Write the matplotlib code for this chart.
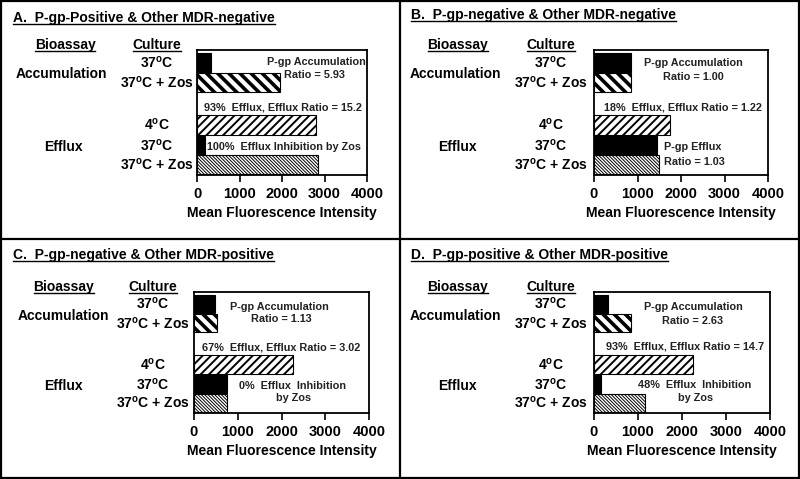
import matplotlib
matplotlib.use("Agg")
import matplotlib.pyplot as plt
from matplotlib.transforms import blended_transform_factory
from matplotlib.lines import Line2D

plt.rcParams["font.family"] = ["Liberation Sans", "DejaVu Sans"]
plt.rcParams["font.weight"] = "bold"
plt.rcParams["mathtext.fontset"] = "custom"
plt.rcParams["mathtext.rm"] = "Liberation Sans:bold"
plt.rcParams["mathtext.it"] = "Liberation Sans:bold"
plt.rcParams["mathtext.bf"] = "Liberation Sans:bold"

# --- data ---
titles = ["A.  P-gp-Positive & Other MDR-negative",
          "B.  P-gp-negative & Other MDR-negative",
          "C.  P-gp-negative & Other MDR-positive",
          "D.  P-gp-positive & Other MDR-positive"]
cultures = ["37$^{\\mathrm{o}}$C", "37$^{\\mathrm{o}}$C + Zos",
            "4$^{\\mathrm{o}}$C", "37$^{\\mathrm{o}}$C", "37$^{\\mathrm{o}}$C + Zos"]
mfi_a = [330, 1950, 2800, 190, 2850]
mfi_b = [860, 860, 1755, 1450, 1490]
mfi_c = [470, 530, 2260, 750, 750]
mfi_d = [320, 840, 2240, 152, 1170]
mfi = [mfi_a, mfi_b, mfi_c, mfi_d]
xticks = [0, 1000, 2000, 3000, 4000]

# annotations: (text, x in MFI, y in bar units, ha)
notes_a = [("P-gp Accumulation", 2800, 0.0, "center"),
           ("Ratio = 5.93", 2760, 0.64, "center"),
           ("93%  Efflux, Efflux Ratio = 15.2", 2020, 2.24, "center"),
           ("100%  Efflux Inhibition by Zos", 2040, 4.22, "center")]
notes_b = [("P-gp Accumulation", 2280, 0.04, "center"),
           ("Ratio = 1.00", 2290, 0.74, "center"),
           ("18%  Efflux, Efflux Ratio = 1.22", 2040, 2.24, "center"),
           ("P-gp Efflux", 1620, 4.22, "left"),
           ("Ratio = 1.03", 1620, 4.97, "left")]
notes_c = [("P-gp Accumulation", 1960, 0.14, "center"),
           ("Ratio = 1.13", 2000, 0.77, "center"),
           ("67%  Efflux, Efflux Ratio = 3.02", 2000, 2.26, "center"),
           ("0%  Efflux  Inhibition", 2260, 4.22, "center"),
           ("by Zos", 2270, 4.89, "center")]
notes_d = [("P-gp Accumulation", 2250, 0.14, "center"),
           ("Ratio = 2.63", 2250, 0.89, "center"),
           ("93%  Efflux, Efflux Ratio = 14.7", 2070, 2.22, "center"),
           ("48%  Efflux  Inhibition", 2280, 4.19, "center"),
           ("by Zos", 2300, 4.86, "center")]
notes = [notes_a, notes_b, notes_c, notes_d]

# --- layout (pixels, top-left origin) ---
W, H = 800, 479
bar_pos = [0, 1, 3.14, 4.15, 5.12]
bar_styles = [dict(color="black", hatch=None, hlw=1.0),
              dict(color="white", hatch="\\\\\\", hlw=2.6),
              dict(color="white", hatch="////", hlw=1.4),
              dict(color="black", hatch=None, hlw=1.0),
              dict(color="white", hatch="\\" * 10, hlw=0.7)]
offsets = [(0, 0), (400, 0), (0, 240), (400, 240)]
ax_rects = [(197, 50, 170, 125), (594, 50, 174, 125),
            (194, 292, 175, 121), (594, 292, 176, 121)]
title_x = [13, 11, 13, 11]
title_y = [18, 15, 15, 15]
bio_x = [65, 58, 64, 58]
cult_x = [157, 151, 153, 151]
acc_x = [61, 55, 63, 55]
eff_x = [63, 57, 63, 57]
head_y = [45, 45, 47, 47]
acc_y = [74, 74, 76, 76]
eff_y = [147, 147, 146, 146]

fig = plt.figure(figsize=(W / 100, H / 100), dpi=100)


def fx(px):
    return px / W


def fy(py):
    return 1 - py / H


underlined = []
for i in range(4):
    ox, oy = offsets[i]
    l, t, w, h = ax_rects[i]
    ax = fig.add_axes([fx(l), fy(t + h), w / W, h / H])
    for j, (v, st) in enumerate(zip(mfi[i], bar_styles)):
        b = ax.barh(bar_pos[j], v, height=0.96, color=st["color"],
                    edgecolor="black", linewidth=0.8, hatch=st["hatch"])[0]
        if hasattr(b, "set_hatch_linewidth"):
            b.set_hatch_linewidth(st["hlw"])
    ax.set_xlim(0, 4000)
    ax.set_ylim(5.64, -0.61)
    ax.set_yticks([])
    ax.set_xticks(xticks)
    ax.set_xticklabels([str(x) for x in xticks], fontsize=10.5, fontweight="bold")
    ax.tick_params(axis="x", direction="out", length=5, width=1.2, pad=3.5)
    for s in ax.spines.values():
        s.set_linewidth(1.3)
    ax.set_xlabel("Mean Fluorescence Intensity", fontsize=10, fontweight="bold",
                  labelpad=4)
    for txt, x, y, ha in notes[i]:
        ax.text(x, y, txt, ha=ha, va="center", fontsize=7.8, fontweight="bold",
                color="#222222")

    # culture labels, aligned with bars
    tr = blended_transform_factory(fig.transFigure, ax.transData)
    for j, c in enumerate(cultures):
        fig.text(fx(ox + cult_x[i]), bar_pos[j], c, transform=tr, ha="center",
                 va="center", fontsize=10, fontweight="bold")

    t_title = fig.text(fx(ox + title_x[i]), fy(oy + title_y[i]), titles[i],
                       ha="left", va="center", fontsize=10, fontweight="bold")
    t_bio = fig.text(fx(ox + bio_x[i]), fy(oy + head_y[i]), "Bioassay",
                     ha="center", va="center", fontsize=10, fontweight="bold")
    t_cul = fig.text(fx(ox + cult_x[i]), fy(oy + head_y[i]), "Culture",
                     ha="center", va="center", fontsize=10, fontweight="bold")
    underlined += [t_title, t_bio, t_cul]
    fig.text(fx(ox + acc_x[i]), fy(oy + acc_y[i]), "Accumulation",
             ha="center", va="center", fontsize=10, fontweight="bold")
    fig.text(fx(ox + eff_x[i]), fy(oy + eff_y[i]), "Efflux",
             ha="center", va="center", fontsize=10, fontweight="bold")

# underline headers
renderer = fig.canvas.get_renderer()
for t in underlined:
    bb = t.get_window_extent(renderer)
    y = bb.y0 + 1
    fig.add_artist(Line2D([bb.x0 / W, bb.x1 / W], [y / H, y / H],
                          transform=fig.transFigure, color="black", lw=1.0))

# panel borders
for xs, ys in [([1, 799], [1, 1]), ([1, 799], [478, 478]), ([1, 1], [1, 478]),
               ([799, 799], [1, 478]), ([400, 400], [1, 478]), ([1, 799], [239, 239])]:
    fig.add_artist(Line2D([fx(x) for x in xs], [fy(y) for y in ys],
                          transform=fig.transFigure, color="black", lw=1.6))

fig.savefig("out.png", dpi=100)
